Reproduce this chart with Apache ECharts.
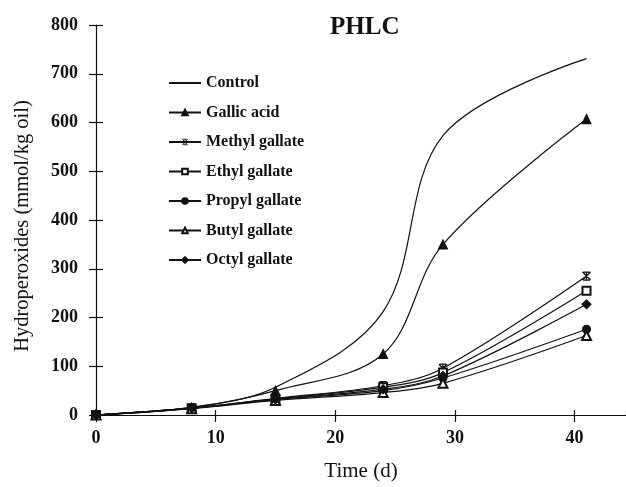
<!DOCTYPE html>
<html>
<head>
<meta charset="utf-8">
<script src="https://cdn.jsdelivr.net/npm/echarts@6/dist/echarts.min.js"></script>
<style>html,body{margin:0;padding:0;background:#fff}#c{width:626px;height:487px}</style>
</head>
<body>
<div id="c"></div>
<script>
const days = [0, 8, 15, 24, 29, 41];
const control = [0, 16, 57, 212, 573, 731];
const gallicAcid = [0, 15, 50, 125, 350, 607];
const methylGallate = [0, 14, 34, 60, 96, 285];
const ethylGallate = [0, 14, 33, 57, 87, 255];
const propylGallate = [0, 14, 32, 50, 76, 176];
const butylGallate = [0, 13, 30, 46, 65, 163];
const octylGallate = [0, 14, 32, 53, 80, 227];
const seriesNames = ['Control', 'Gallic acid', 'Methyl gallate', 'Ethyl gallate', 'Propyl gallate', 'Butyl gallate', 'Octyl gallate'];
const yTicks = [0, 100, 200, 300, 400, 500, 600, 700, 800];
const xTicks = [0, 10, 20, 30, 40];

const FONT = 'Liberation Serif';
const INK = '#111';
const asterisk = 'path://M0,0L10,10M10,0L0,10M5,0L5,10M1,0L9,0M1,10L9,10';

function pts(vals) { return days.map((d, i) => [d, vals[i]]); }

const symbols = ['none', 'triangle', asterisk, 'emptyRect', 'circle', 'emptyTriangle', 'diamond'];
const sizes = [0, 9, 8, 8, 8, 9, 9];
const values = [control, gallicAcid, methylGallate, ethylGallate, propylGallate, butylGallate, octylGallate];

const series = seriesNames.map((name, i) => ({
  name: name,
  type: 'line',
  data: pts(values[i]),
  smooth: 0.35,
  symbol: symbols[i],
  symbolSize: sizes[i],
  showSymbol: i !== 0,
  lineStyle: { color: INK, width: 1.2 },
  itemStyle: { color: INK, borderColor: INK, borderWidth: i === 2 ? 1.3 : 1.1 },
  xAxisIndex: 0,
  yAxisIndex: 0,
  clip: false,
  z: 3
}));

const legendData = seriesNames.map((n, i) => {
  if (i === 0) return { name: n, itemStyle: { color: 'rgba(0,0,0,0)', borderColor: 'rgba(0,0,0,0)', opacity: 0 } };
  if (i === 2) return { name: n, itemStyle: { borderWidth: 0.8 } };
  return { name: n };
});

const chart = echarts.init(document.getElementById('c'), null, { renderer: 'canvas' });
chart.setOption({
  animation: false,
  backgroundColor: '#fff',
  title: {
    text: 'PHLC',
    left: 325,
    top: 10,
    textStyle: { fontFamily: FONT, fontWeight: 'bold', fontSize: 25, color: INK }
  },
  legend: {
    orient: 'vertical',
    left: 163,
    top: 69,
    itemWidth: 32,
    itemHeight: 7,
    itemGap: 11.5,
    data: legendData,
    textStyle: { fontFamily: FONT, fontWeight: 'bold', fontSize: 16, color: INK, lineHeight: 18 }
  },
  grid: { left: 96, right: 0, top: 25, bottom: 67, containLabel: false },
  xAxis: [{
    type: 'value', min: 0, max: 44.3, interval: 10, position: 'bottom',
    name: 'Time (d)', nameLocation: 'middle', nameGap: 46,
    nameTextStyle: { fontFamily: FONT, fontSize: 21, color: INK },
    axisLine: { show: true, lineStyle: { color: INK, width: 1.2 } },
    axisTick: { show: true, length: 7, lineStyle: { color: INK, width: 1.2 } },
    axisLabel: { fontFamily: FONT, fontWeight: 'bold', fontSize: 18, color: INK, margin: 14, showMaxLabel: false,
      formatter: v => (xTicks.indexOf(v) >= 0 ? String(v) : '') },
    splitLine: { show: false }
  }, {
    type: 'value', min: 0, max: 44.3, interval: 10, position: 'bottom',
    axisLine: { show: false },
    axisTick: { show: true, inside: true, length: 5, lineStyle: { color: INK, width: 1.2 } },
    axisLabel: { show: false },
    splitLine: { show: false }
  }],
  yAxis: [{
    type: 'value', min: 0, max: 800, interval: 100, position: 'left',
    name: 'Hydroperoxides (mmol/kg oil)', nameLocation: 'middle', nameGap: 63,
    nameTextStyle: { fontFamily: FONT, fontSize: 20.5, color: INK, padding: [0, 12, 0, 0] },
    axisLine: { show: true, lineStyle: { color: INK, width: 1.2 } },
    axisTick: { show: true, length: 7, lineStyle: { color: INK, width: 1.2 } },
    axisLabel: { fontFamily: FONT, fontWeight: 'bold', fontSize: 18, color: INK, margin: 18,
      formatter: v => (yTicks.indexOf(v) >= 0 ? String(v) : '') },
    splitLine: { show: false }
  }, {
    type: 'value', min: 0, max: 800, interval: 100, position: 'left',
    axisLine: { show: false },
    axisTick: { show: true, inside: true, length: 7, lineStyle: { color: INK, width: 1.2 } },
    axisLabel: { show: false },
    splitLine: { show: false }
  }],
  series: series
});
</script>
</body>
</html>
